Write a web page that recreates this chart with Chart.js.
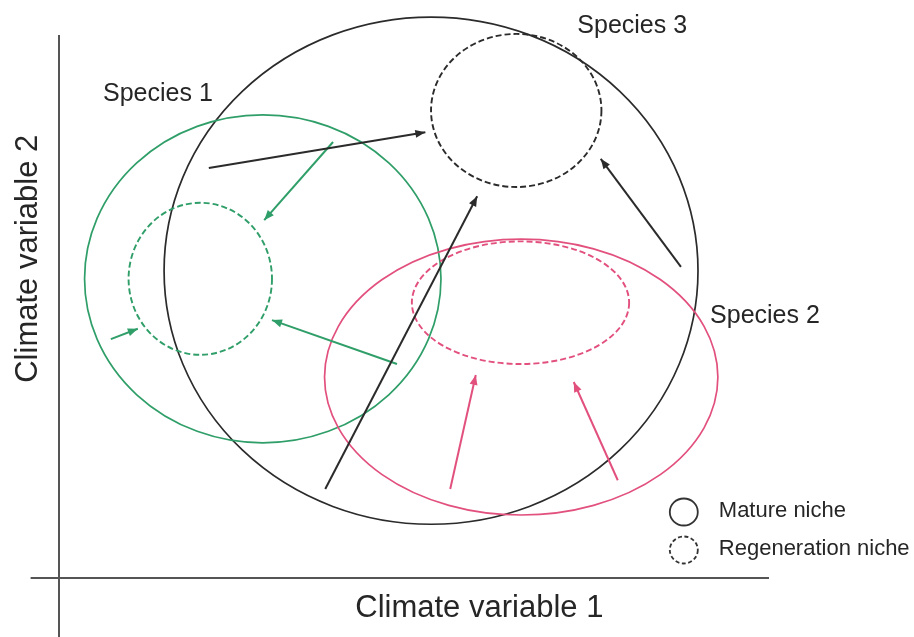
<!DOCTYPE html>
<html>
<head>
<meta charset="utf-8">
<script src="https://cdn.jsdelivr.net/npm/chart.js@4/dist/chart.umd.min.js"></script>
<style>
html,body{margin:0;padding:0;background:#fff;}
#wrap{width:914px;height:637px;}
</style>
</head>
<body>
<div id="wrap"><canvas id="c" width="914" height="637"></canvas></div>
<script>
// ---- Niche ellipses (climate-variable units: centre x, centre y, half-width, half-height)
const nicheNames   = ["Species 3 mature", "Species 3 regeneration", "Species 1 mature", "Species 1 regeneration", "Species 2 mature", "Species 2 regeneration"];
const nicheSpecies = [3, 3, 1, 1, 2, 2];
const nicheType    = ["mature", "regeneration", "mature", "regeneration", "mature", "regeneration"];
const nicheCx      = [52.4, 64.4, 28.7, 19.9, 65.1, 65.0];
const nicheCy      = [56.6, 86.1, 55.1, 55.1, 37.0, 50.7];
const nicheRx      = [37.6, 12.0, 25.1, 10.1, 27.7, 15.3];
const nicheRy      = [46.7, 14.1, 30.2, 14.0, 25.4, 11.3];

// ---- Shift arrows (start -> end, climate-variable units)
const arrowSpecies = [3, 3, 3, 1, 1, 1, 2, 2];
const arrowX0 = [21.1, 37.5, 87.6, 38.6, 47.6,  7.3, 55.1, 78.7];
const arrowY0 = [75.5, 16.4, 57.3, 80.3, 39.4, 44.0, 16.4, 18.0];
const arrowX1 = [51.6, 58.9, 76.3, 28.9, 30.0, 11.1, 58.7, 72.5];
const arrowY1 = [82.1, 70.3, 77.2, 65.9, 47.5, 45.9, 37.4, 36.1];

// ---- Text
const speciesLabels = ["Species 1", "Species 2", "Species 3"];
const axisTitles = ["Climate variable 1", "Climate variable 2"];
const legendLabels = ["Mature niche", "Regeneration niche"];

// ---- Styles
const speciesColor = {1: "#2f9e68", 2: "#e2507e", 3: "#2b2b2b"};
const textColor = "#262626";
const FONT = "'Liberation Sans', Arial, Helvetica, sans-serif";

const arrowDatasets = arrowX0.map((x0, i) => ({
  label: "Species " + arrowSpecies[i] + " shift",
  data: [{x: x0, y: arrowY0[i]}, {x: arrowX1[i], y: arrowY1[i]}],
  showLine: true,
  borderColor: speciesColor[arrowSpecies[i]],
  backgroundColor: speciesColor[arrowSpecies[i]],
  borderWidth: 2,
  pointRadius: 0,
  pointHoverRadius: 0,
  clip: false
}));

const diagramPlugin = {
  id: "diagram",
  beforeDatasetsDraw(chart) {
    const ctx = chart.ctx, xs = chart.scales.x, ys = chart.scales.y;
    const X = v => xs.getPixelForValue(v), Y = v => ys.getPixelForValue(v);
    ctx.save();
    // axes
    ctx.strokeStyle = "#555";
    ctx.lineWidth = 2;
    ctx.beginPath();
    ctx.moveTo(X(-4), Y(0)); ctx.lineTo(X(100), Y(0));
    ctx.moveTo(X(0), Y(100)); ctx.lineTo(X(0), Y(-11));
    ctx.stroke();
    // niches
    for (let i = 0; i < nicheCx.length; i++) {
      const cx = X(nicheCx[i]), cy = Y(nicheCy[i]);
      const rx = Math.abs(X(nicheCx[i] + nicheRx[i]) - cx);
      const ry = Math.abs(Y(nicheCy[i] + nicheRy[i]) - cy);
      ctx.strokeStyle = speciesColor[nicheSpecies[i]];
      ctx.lineWidth = nicheType[i] === "mature" ? 1.7 : 1.9;
      ctx.setLineDash(nicheType[i] === "mature" ? [] : [6, 3]);
      ctx.beginPath();
      ctx.ellipse(cx, cy, rx, ry, 0, 0, Math.PI * 2);
      ctx.stroke();
    }
    ctx.setLineDash([]);
    ctx.restore();
  },
  afterDatasetsDraw(chart) {
    const ctx = chart.ctx, xs = chart.scales.x, ys = chart.scales.y, ca = chart.chartArea;
    const X = v => xs.getPixelForValue(v), Y = v => ys.getPixelForValue(v);
    ctx.save();
    // arrowheads
    chart.data.datasets.forEach((ds, i) => {
      const pts = chart.getDatasetMeta(i).data;
      const a = pts[0], b = pts[pts.length - 1];
      const ang = Math.atan2(b.y - a.y, b.x - a.x);
      const L = 10, W = 4;
      ctx.fillStyle = ds.borderColor;
      ctx.beginPath();
      ctx.moveTo(b.x, b.y);
      ctx.lineTo(b.x - L * Math.cos(ang) + W * Math.sin(ang), b.y - L * Math.sin(ang) - W * Math.cos(ang));
      ctx.lineTo(b.x - L * Math.cos(ang) - W * Math.sin(ang), b.y - L * Math.sin(ang) + W * Math.cos(ang));
      ctx.closePath();
      ctx.fill();
    });
    // species labels
    ctx.fillStyle = textColor;
    ctx.textBaseline = "alphabetic";
    ctx.textAlign = "left";
    ctx.font = "25px " + FONT;
    ctx.fillText(speciesLabels[0], X(6.2), Y(87.9));
    ctx.fillText(speciesLabels[1], X(91.7), Y(47.0));
    ctx.fillText(speciesLabels[2], X(73.0), Y(100.4));
    // axis titles
    ctx.font = "31px " + FONT;
    ctx.textAlign = "center";
    ctx.fillText(axisTitles[0], X(59.2), ca.bottom + 39);
    ctx.save();
    ctx.translate(ca.left - 22, Y(58.8));
    ctx.rotate(-Math.PI / 2);
    ctx.fillText(axisTitles[1], 0, 0);
    ctx.restore();
    // legend
    const lx = X(88.0);
    const ly = [ca.bottom - 66, ca.bottom - 28];
    ctx.strokeStyle = "#333";
    ctx.lineWidth = 1.8;
    for (let k = 0; k < 2; k++) {
      ctx.setLineDash(k === 0 ? [] : [4, 2.5]);
      ctx.beginPath();
      ctx.ellipse(lx, ly[k], 14, 13.5, 0, 0, Math.PI * 2);
      ctx.stroke();
    }
    ctx.setLineDash([]);
    ctx.font = "22px " + FONT;
    ctx.textAlign = "left";
    ctx.fillText(legendLabels[0], lx + 35, ly[0] + 5);
    ctx.fillText(legendLabels[1], lx + 35, ly[1] + 5);
    ctx.restore();
  }
};

new Chart(document.getElementById("c"), {
  type: "scatter",
  data: {datasets: arrowDatasets},
  options: {
    responsive: false,
    animation: false,
    devicePixelRatio: 1,
    layout: {padding: {left: 59, right: 145, top: 35, bottom: 59}},
    plugins: {legend: {display: false}, tooltip: {enabled: false}},
    scales: {
      x: {type: "linear", min: 0, max: 100, display: false},
      y: {type: "linear", min: 0, max: 100, display: false}
    }
  },
  plugins: [diagramPlugin]
});
</script>
</body>
</html>
